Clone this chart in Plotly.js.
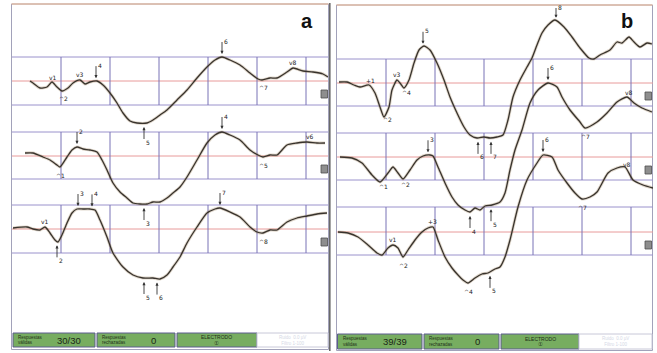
<!DOCTYPE html>
<html><head><meta charset="utf-8">
<script src="https://cdn.plot.ly/plotly-3.0.1.min.js"></script>
<style>html,body{margin:0;padding:0;background:#fff}#chart{width:657px;height:353px}</style>
</head><body><div id="chart"></div>
<script>
// ---- time (ms) and amplitude (uV) samples, panel a ----
const tA1 = [9,10.5,14,17.5,20,22.5,25,28,30.5,34,36.5,39,42.5,45.5,49,52.5,55.5,59,62.5,67.5,70.5,74,77.5,82.5,87.5,92.5,97.5,101.5,105,109,114,119,123,125,129,132.5,137.5,140.5,145.5,150.5,155.5,158];
const uA1 = [0,-1,-3.5,-3,-0.5,-3,-5,-3.5,-1,0.5,-1.5,-0.5,0,-2,-6,-11,-16,-20,-21,-21,-19.5,-17,-14.5,-9.5,-4.5,1.5,7,10.5,12,10.5,8,4,1,0.5,1.5,1.5,4.5,6.5,5,4.5,3.5,2];
const tA2 = [6.5,10.5,15.5,19,22.5,24,27.5,30,32.5,35.5,39,42.5,45,47.5,50.5,54,57.5,60.5,64,67.5,70.5,74,77.5,80.5,84,87.5,92.5,97.5,101.5,105,109,114,119,123,125.5,129,132.5,137.5,142.5,147.5,152.5,156.5];
const uA2 = [1.5,1.5,-0.5,-2,-4.5,-5.5,-0.5,3,4.5,3.5,3,2,-2,-7,-13.5,-18,-21,-23.5,-24,-24,-23,-23,-21,-18.5,-15.5,-10.5,-2,6.5,10.5,12,10.5,8,3,0.5,-0.5,0.5,0.5,5.5,6.5,7,6.5,6.5];
const tA3 = [0.5,7.5,10.5,14,16.5,19,21.5,23,25,27.5,30,32.5,35.5,39,41.5,44,47.5,50.5,55.5,60.5,65.5,70.5,74,77.5,80.5,84,87.5,92.5,97.5,101.5,104,109,114,119,122.5,125.5,129,132.5,137.5,142.5,147.5,152.5,157.5];
const uA3 = [0.5,1,0,-0.5,1,-2,-5.5,-6.5,-3,3,8,10,10,10,9.5,4.5,-4,-12,-19,-23,-24.5,-24.5,-25,-23,-19,-14,-7,1,8,10,10.5,8.5,6,1,-1.5,-2,-0.5,-0.5,3.5,5.5,6.5,7.5,8];
// ---- panel b ----
const tB1 = [1,5,8.5,11.5,16,19,21.5,23.5,26,27.5,30,31.5,33.5,36,38.5,41,43.5,46.5,50,53.5,56.5,60,63.5,66.5,70,73.5,76.5,80,83,85.5,88,91.5,95,97.5,100,102.5,105.5,109,113.5,117.5,121.5,126,128.5,131.5,136.5,140,142.5,146,148.5,151.5,155,157.5];
const uB1 = [0.5,0.5,-1,-2,-1,-5,-12,-17,-12,-3.5,1.5,0,-2.5,1.5,10,16.5,18.5,16.5,10,1.5,-7,-15,-22,-26,-27.5,-27,-27.5,-27,-26,-18.5,-7,1.5,8,12.5,19,25,29,31.5,28,23,17.5,12.5,12,14,16.5,20.5,20,23,20.5,18,20,19.5];
const tB2 = [1.5,7.5,12.5,17.5,21.5,25.5,28,30.5,33,36.5,40,43,46.5,48,50.5,54,57.5,60.5,64,66.5,69,71.5,74,77.5,81.5,84,86.5,89,92.5,96.5,100.5,105.5,110,112.5,116.5,121.5,124,130,135,140,145,148.5,152.5,157.5];
const uB2 = [0,-0.5,-3,-9,-12.5,-8,-5,-8,-11,-6.5,-1.5,0.5,1,0.5,-5,-13,-20,-24,-26.5,-27.5,-25.5,-26.5,-24.5,-24,-22.5,-18,-6.5,3.5,13.5,27,33.5,37,35,30,23.5,17.5,14.5,17.5,22,27.5,30,27,24.5,22.5];
const tB3 = [0.5,5.5,10.5,15.5,20,22.5,25.5,28,30.5,33,35.5,39,42.5,45.5,48,50.5,54,57.5,60.5,63,65.5,69,72.5,75.5,79,81.5,84,86.5,90.5,95,100,103,107.5,110.5,115,119,122.5,126.5,130,135.5,140,144,148,153,158];
const uB3 = [0,-0.5,-2.5,-6.5,-10.5,-11.5,-8,-6.5,-8,-12.5,-9,-4,0,2,2.5,-4,-12.5,-18,-21.5,-24,-25.5,-23,-21,-20.5,-18.5,-17.5,-12.5,-4,12.5,26,34.5,38.5,37.5,31,24.5,19.5,16.5,17.5,20,29.5,32,32.5,26,23.5,22];

// ---- marker times (ms) and kinds; numbers run 1..n ----
const mkA1 = [20.5,25.5,34,42,66,105,125.5,140.5];   const kA1 = ['v','^','v','dn','up','dn','^','v'];
const mkA2 = [24,32.5,66,105,125.5,149];              const kA2 = ['^','dn','up','dn','^','v'];
const mkA3 = [16.5,22.5,33,40,66,72.5,104,125.5];    const kA3 = ['v','up','dn','dn','up','up','dn','^'];
const mkB1 = [16.5,25,30,34.5,43,70.5,77,109.5];     const kB1 = ['p','^','v','^','dn','up','up','dn'];
const mkB2 = [23,34,45.5,66.5,77,105.5,124,146];     const kB2 = ['^','^','dn','up','up','dn','^','v'];
const mkB3 = [28,33,47.5,65.5,76.5,103,122.5,145];   const kB3 = ['v','^','p','^','up','dn','^','v'];

// ---- status bar texts ----
const countA = '30/30', countB = '39/39', rejected = '0';
const boxLabel1 = ['Respuestas','válidas'], boxLabel2 = ['Respuestas','rechazadas'], boxLabel3 = ['ELECTRODO','\u2460'];
const panelLetters = ['a','b'];

// ================= layout constants =================
const W = 657, H = 353;
const X = px => px / W;          // paper x
const Y = py => -py / 2;         // y-axis units (1 px = 0.5)
const basesA = [81,156,229], basesB = [83,157,232];
const blocksA = [[57,105],[132,179],[205,253]], blocksB = [[59,106],[133,180],[207,255]];
const divT = 24.5;
const lineCol = '#38332d';

function interp(ts, us, t){
  if (t <= ts[0]) return us[0];
  for (let i=1;i<ts.length;i++){ if (t <= ts[i]) { const f=(t-ts[i-1])/(ts[i]-ts[i-1]); return us[i-1]+f*(us[i]-us[i-1]); } }
  return us[us.length-1];
}

const data = [];
const annotations = [];
const shapes = [];
function txt(o){ return Object.assign({showarrow:false, xanchor:'center', yanchor:'middle'}, o); }

function addTrace(ts, us, base, xa, mk, kinds){
  const off = -base/2;
  const ys = us.map(u => u + off);
  data.push({x: ts, y: ys, xaxis: xa, yaxis: 'y', type: 'scatter', mode: 'lines',
    line: {color: 'rgba(150,120,80,0.30)', width: 3, shape: 'spline', smoothing: 0.6}, hoverinfo: 'skip'});
  data.push({x: ts, y: ys, xaxis: xa, yaxis: 'y', type: 'scatter', mode: 'lines',
    line: {color: lineCol, width: 1.3, shape: 'spline', smoothing: 0.6}, hoverinfo: 'skip'});
  mk.forEach((t, i) => {
    const y = interp(ts, us, t) + off;
    const n = String(i+1);
    const k = kinds[i];
    const fnt = {family: 'DejaVu Sans', size: 6, color: '#222222'};
    if (k === 'dn' || k === 'up') {
      const headPx = (base - 2*interp(ts, us, t));
      let len = 14;
      if (k === 'dn') len = Math.min(14, headPx - 9);
      const ysh = k === 'dn' ? 3 : -4;
      annotations.push({x: t, y: y, xref: xa, yref: 'y', text: ' ', font: {size: 1},
        showarrow: true, arrowhead: 2, arrowsize: 0.7, arrowwidth: 0.9, arrowcolor: '#333',
        ax: 0, ay: k === 'dn' ? -len : len, yshift: ysh, standoff: 0, startstandoff: 0});
      annotations.push(txt({x: t, y: y, xref: xa, yref: 'y', text: n, font: fnt,
        xshift: 3.5, yshift: k === 'dn' ? ysh + len - 1 : ysh - len - 1}));
    } else {
      const sym = k === '^' ? '^' : (k === 'p' ? '+' : 'v');
      annotations.push(txt({x: t, y: y, xref: xa, yref: 'y', text: sym + n, font: fnt,
        yshift: k === '^' ? -8 : 6}));
    }
  });
}

addTrace(tA1, uA1, basesA[0], 'x', mkA1, kA1);
addTrace(tA2, uA2, basesA[1], 'x', mkA2, kA2);
addTrace(tA3, uA3, basesA[2], 'x', mkA3, kA3);
addTrace(tB1, uB1, basesB[0], 'x2', mkB1, kB1);
addTrace(tB2, uB2, basesB[1], 'x2', mkB2, kB2);
addTrace(tB3, uB3, basesB[2], 'x2', mkB3, kB3);

// panel frames
function frame(x0, x1, y0, y1){
  shapes.push({type:'rect', xref:'paper', yref:'y', x0:X(x0), x1:X(x1), y0:Y(y0), y1:Y(y1),
    line:{color:'#a2a2ba', width:1}, fillcolor:'#ffffff', layer:'below'});
  shapes.push({type:'line', xref:'paper', yref:'y', x0:X(x0), x1:X(x1), y0:Y(y0), y1:Y(y0),
    line:{color:'#e6b08a', width:1}, layer:'below'});
}
frame(11.5, 328.5, 4, 349.5);
frame(336.5, 652.5, 5, 350.5);
shapes.push({type:'line', xref:'paper', yref:'y', x0:X(329.8), x1:X(329.8), y0:Y(3), y1:Y(351),
  line:{color:'#6a6a6a', width:1.6}, layer:'below'});

// grids
function grid(xr, blocks, bases, iconX0, iconX1){
  blocks.forEach((b, i) => {
    [b[0], b[1]].forEach(py => shapes.push({type:'line', xref:xr, yref:'y', x0:0, x1:158, y0:Y(py), y1:Y(py),
      line:{color:'#9a92cc', width:1}, layer:'below'}));
    shapes.push({type:'line', xref:xr, yref:'y', x0:0, x1:158, y0:Y(bases[i]), y1:Y(bases[i]),
      line:{color:'#e89a9a', width:1}, layer:'below'});
    for (let k=1;k<=6;k++){
      shapes.push({type:'line', xref:xr, yref:'y', x0:k*divT, x1:k*divT, y0:Y(b[0]), y1:Y(b[1]),
        line:{color:'#7872b6', width:1}, layer:'below'});
    }
    shapes.push({type:'rect', xref:'paper', yref:'y', x0:X(iconX0), x1:X(iconX1), y0:Y(bases[i]+9), y1:Y(bases[i]+17),
      line:{color:'#4e4e4e', width:0.8}, fillcolor:'#8e8e8e', layer:'above'});
  });
}
grid('x', blocksA, basesA, 321, 327.5);
grid('x2', blocksB, basesB, 645, 651.5);

// status bars
function statusBar(boxes, y0, y1, count, cx1, cx2, cx3){
  boxes.forEach((b, i) => {
    shapes.push({type:'rect', xref:'paper', yref:'y', x0:X(b[0]), x1:X(b[1]), y0:Y(y0), y1:Y(y1),
      line:{color: i<3 ? '#5c5c8e' : '#c8c8d8', width:1}, fillcolor: i<3 ? '#77ad60' : '#ffffff', layer:'below'});
  });
  const small = {family:'Liberation Sans', size:4.5, color:'#1e3018'};
  const big = {family:'Liberation Sans', size:9.5, color:'#1a2616'};
  const ym = (y0+y1)/2;
  [[boxLabel1, boxes[0][0]+3], [boxLabel2, boxes[1][0]+3]].forEach(([lab, lx]) => {
    annotations.push(txt({xref:'paper', yref:'y', x:X(lx), y:Y(ym-2.8), text:lab[0], xanchor:'left', font:small}));
    annotations.push(txt({xref:'paper', yref:'y', x:X(lx), y:Y(ym+2.6), text:lab[1], xanchor:'left', font:small}));
  });
  annotations.push(txt({xref:'paper', yref:'y', x:X(cx1), y:Y(ym), text:count, font:big}));
  annotations.push(txt({xref:'paper', yref:'y', x:X(cx2), y:Y(ym), text:rejected, font:big}));
  annotations.push(txt({xref:'paper', yref:'y', x:X(cx3), y:Y(ym-3), text:boxLabel3[0], font:{family:'Liberation Sans', size:5, color:'#1e3018'}}));
  annotations.push(txt({xref:'paper', yref:'y', x:X(cx3), y:Y(ym+2.8), text:boxLabel3[1], font:{family:'DejaVu Sans', size:5.5, color:'#1e3018'}}));
  annotations.push(txt({xref:'paper', yref:'y', x:X((boxes[3][0]+boxes[3][1])/2), y:Y(ym), text:'Ruido  0.0 µV<br>Filtro 1-100', font:{family:'Liberation Sans', size:4.5, color:'#d4d8e6'}}));
}
statusBar([[13,95],[97,175],[177,257],[257,328]], 333, 347, countA, 69, 153, 216);
statusBar([[337.5,422],[424,499],[501,579],[579,652]], 334, 349, countB, 395, 477, 540);

// panel letters
annotations.push(txt({xref:'paper', yref:'y', x:X(307), y:Y(21), text:'<b>'+panelLetters[0]+'</b>',
  font:{family:'Liberation Sans', size:20, color:'#111'}}));
annotations.push(txt({xref:'paper', yref:'y', x:X(627), y:Y(21), text:'<b>'+panelLetters[1]+'</b>',
  font:{family:'Liberation Sans', size:20, color:'#111'}}));

const ax = {visible:false, showgrid:false, zeroline:false, fixedrange:true};
const layout = {
  width: W, height: H, margin: {l:0, r:0, t:0, b:0},
  paper_bgcolor: '#ffffff', plot_bgcolor: 'rgba(0,0,0,0)', showlegend: false,
  xaxis: Object.assign({domain:[12/W, 328/W], range:[0,158], anchor:'y'}, ax),
  xaxis2: Object.assign({domain:[337/W, 653/W], range:[0,158], anchor:'y'}, ax),
  yaxis: Object.assign({domain:[0,1], range:[-H/2, 0]}, ax),
  shapes: shapes, annotations: annotations
};
Plotly.newPlot('chart', data, layout, {staticPlot:true, displayModeBar:false});
</script></body></html>
